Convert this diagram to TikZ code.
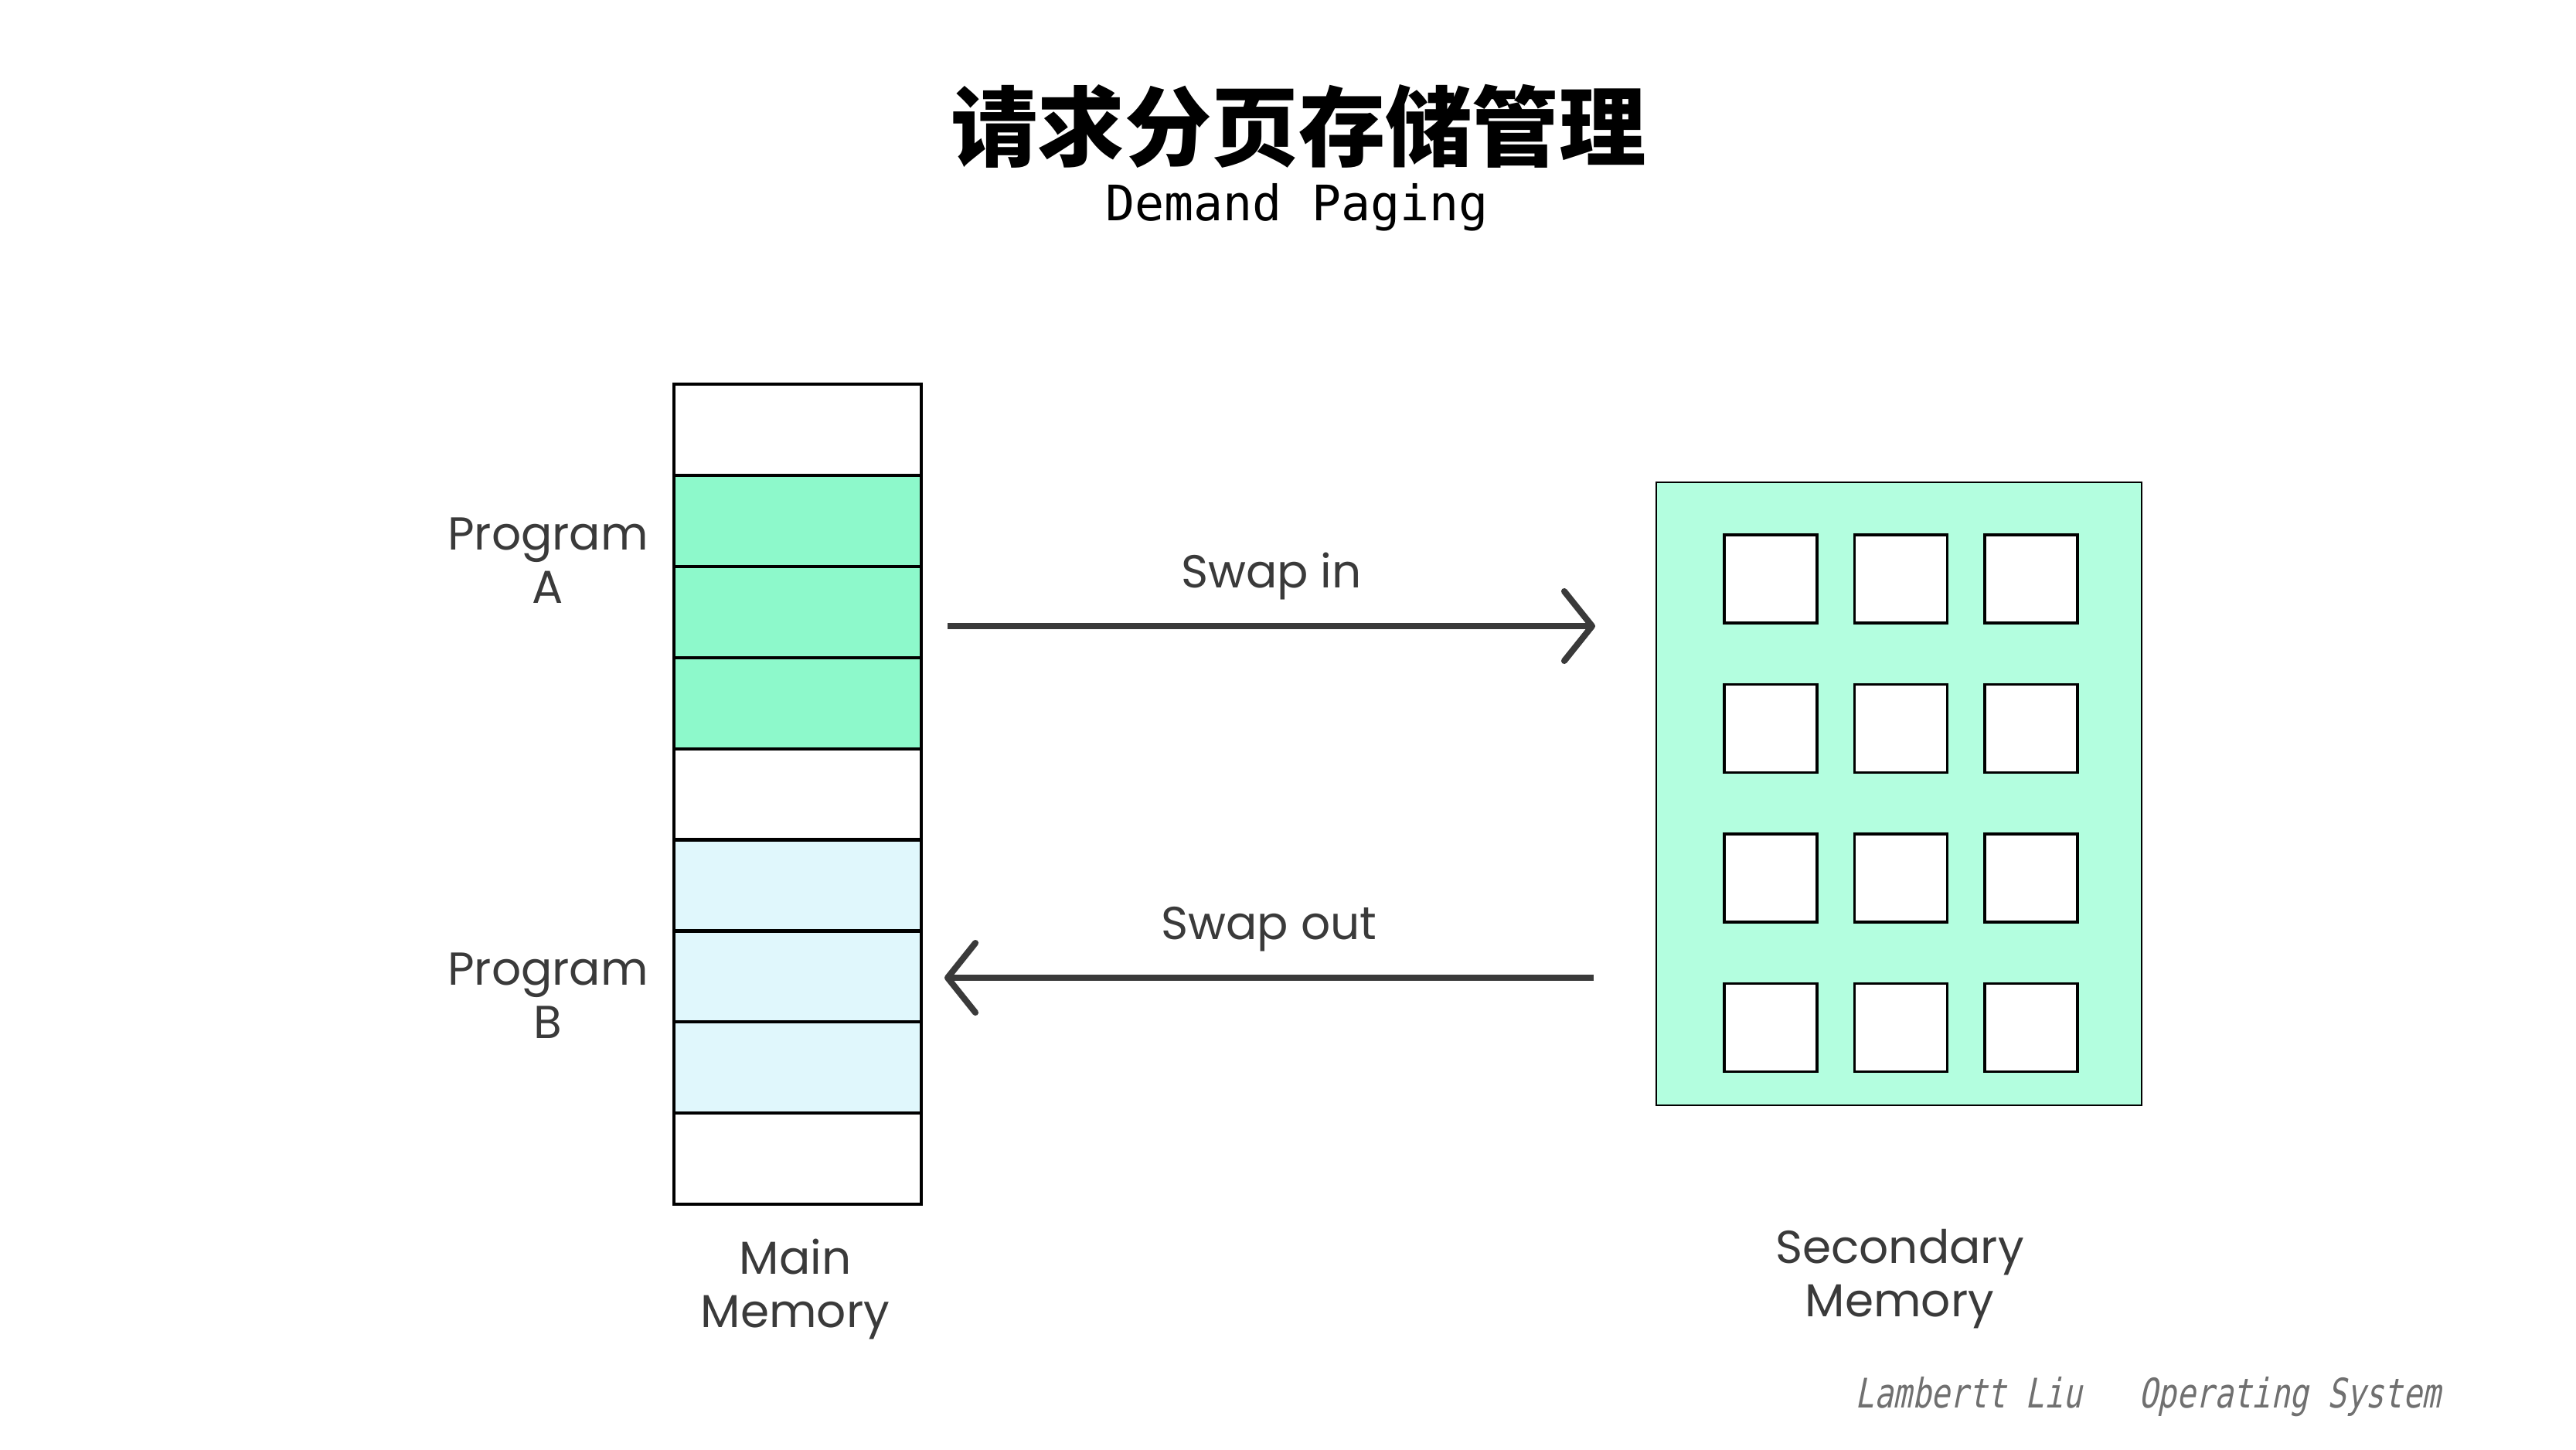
\documentclass[tikz,border=0pt]{standalone}
\usepackage{fontspec}
\setmainfont{Poppins}
\newfontfamily\cjk{Noto Sans CJK SC}
\newfontfamily\codefont{DejaVu Sans Mono}
\newfontfamily\signfont[FakeStretch=0.77,FakeSlant=0.2]{DejaVu Sans Mono}
\usetikzlibrary{positioning,arrows.meta}
\definecolor{progA}{HTML}{8DF9CB}
\definecolor{progB}{HTML}{E0F7FC}
\definecolor{disk}{HTML}{B3FEDF}
\definecolor{ink}{HTML}{3A3A3A}
\definecolor{footgray}{HTML}{707070}
\tikzset{%
	every cell/.style={
		draw,
		line width=1.2pt,
		minimum width=3.2cm,
		minimum height=1.179cm,
		inner sep=0,
		outer sep=0
	},
	cell free/.style={fill=white},
	cell a/.style={fill=progA},
	cell b/.style={fill=progB},
	every slot/.style={
		draw,
		line width=1pt,
		fill=white,
		minimum width=1.2cm,
		minimum height=1.14cm,
		inner sep=0
	},
	label text/.style={
		text=ink,
		align=center,
		font=\fontsize{17}{19.6}\selectfont
	},
	swap/.style={
		draw=ink,
		line width=2.3pt,
		-{Straight Barb[length=0.36cm, width=0.9cm, round]}
	},
}

\begin{document}
\begin{tikzpicture}[>=stealth]
	
	\fill [white] (0,0) rectangle (33.33,-18.75);
	\useasboundingbox (0,0) rectangle (33.33,-18.75);
	
	\node [font=\cjk\bfseries\fontsize{32}{36}\selectfont] (title) at (16.80,-1.63) {请求分页存储管理};
	\node [font=\codefont\fontsize{18}{21}\selectfont] (subtitle) at (16.78,-2.68) {Demand Paging};
	
	\foreach \t [count=\i] in {free,a,a,a,free,b,b,b,free}
	\node [every cell/.try, cell \t/.try] (mem-\i) at (10.32,-4.3805-\i*1.179) {};
	
	\node [draw, line width=0.8pt, fill=disk, minimum width=6.28cm, minimum height=8.06cm] (disk) at (24.57,-10.27) {};
	
	\foreach \r in {1,...,4}
	\foreach \c in {1,...,3}
	\node [every slot/.try] (slot-\r-\c) at (21.225+\c*1.685,-5.555-\r*1.935) {};
	
	\node [label text] (prog-a) at (7.09,-7.25) {Program\\A};
	\node [label text] (prog-b) at (7.09,-12.88) {Program\\B};
	\node [label text] (main-label) at (10.29,-16.68) {Main\\Memory};
	\node [label text] (disk-label) at (24.58,-16.55) {Secondary\\Memory};
	
	\coordinate (in-start) at (12.26,-8.10);
	\coordinate (in-end) at (20.64,-8.10);
	\coordinate (out-start) at (20.62,-12.65);
	\coordinate (out-end) at (12.22,-12.65);
	
	\draw [swap] (in-start) -- (in-end)
	node [label text, midway, above=0.18cm] {Swap in};
	
	\draw [swap] (out-start) -- (out-end)
	node [label text, midway, above=0.18cm] {Swap out};
	
	\node [anchor=west, inner sep=0, text=footgray, font=\signfont\fontsize{15}{18}\selectfont] (sign) at (24.00,-18.07) {Lambertt Liu~~~Operating System};
	
\end{tikzpicture}
\end{document}
